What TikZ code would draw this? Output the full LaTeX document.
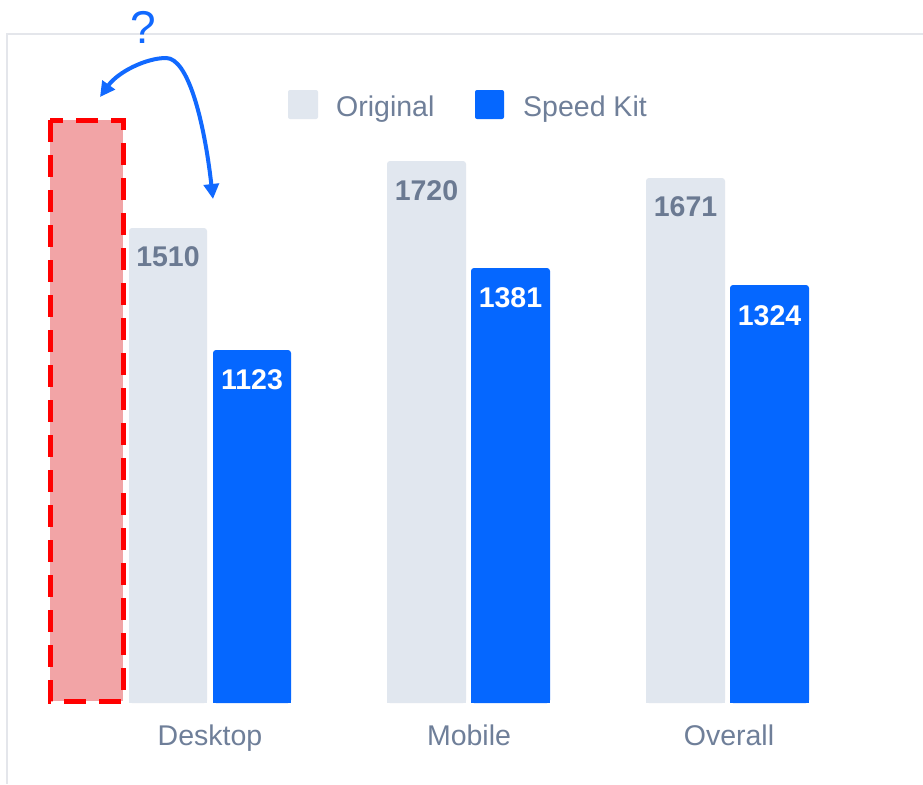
\documentclass[tikz,border=0pt]{standalone}
\usepackage{fontspec}
\setmainfont{Liberation Sans}
\usetikzlibrary{arrows.meta}

\definecolor{origfill}{HTML}{E1E7EF}
\definecolor{speedfill}{HTML}{0567FF}
\definecolor{valgray}{HTML}{6B7A92}
\definecolor{axisgray}{HTML}{6F7F99}
\definecolor{framegray}{HTML}{E4E6EB}
\definecolor{ghostfill}{HTML}{F2A4A6}
\definecolor{ghostline}{HTML}{FF0000}
\definecolor{askblue}{HTML}{1169FF}

% one bar of the chart: colour, left x, right x, top y (bottom is the baseline)
\newcommand\chartbar[4]{%
  \fill[#1, rounded corners=3pt] (#2,703) rectangle (#3,#4);
  \fill[#1] (#2,703) rectangle (#3,{(#4+703)/2});
}

\begin{document}
\begin{tikzpicture}[x=1pt, y=-1pt,
  valorig/.style={font=\fontsize{28.5}{32}\selectfont\bfseries, text=valgray, inner sep=0pt},
  valspeed/.style={font=\fontsize{28.5}{32}\selectfont\bfseries, text=white, inner sep=0pt},
  category/.style={font=\fontsize{28.5}{32}\selectfont, text=axisgray, inner sep=0pt, anchor=base},
  legendtext/.style={font=\fontsize{28.5}{32}\selectfont, text=axisgray, inner sep=0pt, anchor=base west},
  askarrow/.style={draw=askblue, line width=4pt, line cap=round,
    {Triangle[length=15pt,width=15pt]}-{Triangle[length=15pt,width=15pt]}}
]
\useasboundingbox (0,0) rectangle (923,784);
\fill[white] (0,0) rectangle (923,784);

% chart frame (top and left edges)
\draw[framegray, line width=2pt] (6.5,784) -- (6.5,34) -- (923,34);

% legend
\fill[origfill, rounded corners=2pt] (288,90) rectangle (318,119);
\node[legendtext] (legOrig) at (336,116) {Original};
\fill[speedfill, rounded corners=2pt] (475,90) rectangle (504,119);
\node[legendtext] (legSpeed) at (523,116) {Speed Kit};

% hypothetical extra bar
\filldraw[fill=ghostfill, draw=ghostline, line width=5pt,
  dash pattern=on 22pt off 13pt] (50,120) rectangle (123,701);

% Desktop
\chartbar{origfill}{129}{207}{228}
\chartbar{speedfill}{213}{291}{350}
% Mobile
\chartbar{origfill}{387}{466}{161}
\chartbar{speedfill}{471}{550}{268}
% Overall
\chartbar{origfill}{646}{725}{178}
\chartbar{speedfill}{730}{809}{285}

% bar values
\node[valorig]  (vDo) at (168,257) {1510};
\node[valspeed] (vDs) at (252,380) {1123};
\node[valorig]  (vMo) at (426.5,191) {1720};
\node[valspeed] (vMs) at (510.5,298) {1381};
\node[valorig]  (vOo) at (685.5,207) {1671};
\node[valspeed] (vOs) at (769.5,316) {1324};

% categories
\node[category] (cD) at (210,745) {Desktop};
\node[category] (cM) at (469,745) {Mobile};
\node[category] (cO) at (729,745) {Overall};

% question and double-headed arrow
\node[font=\fontsize{46}{50}\selectfont, text=askblue, inner sep=0pt, anchor=base] (ask) at (143,44) {?};
\coordinate (arrL) at (100,97);
\coordinate (arrTop) at (166,58);
\coordinate (arrR) at (213,199);
\draw[askarrow] (arrL) .. controls (118,72) and (146,58) .. (arrTop)
                       .. controls (188,58) and (204,120) .. (arrR);
\end{tikzpicture}
\end{document}
